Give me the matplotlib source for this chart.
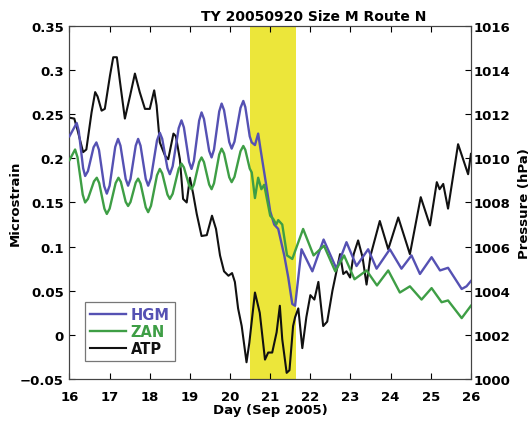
import matplotlib
matplotlib.use("Agg")
import matplotlib.pyplot as plt

# Strain gauge HGM (microstrain)
hgm_day = [16.0, 16.18, 16.23, 16.34, 16.39, 16.46, 16.60, 16.67, 16.735, 16.865, 16.93,
           17.00, 17.14, 17.21, 17.27, 17.40, 17.46, 17.52, 17.65, 17.71, 17.77, 17.90,
           17.96, 18.03, 18.18, 18.25, 18.31, 18.44, 18.50, 18.57, 18.72, 18.79, 18.85,
           18.98, 19.04, 19.10, 19.23, 19.29, 19.35, 19.48, 19.54, 19.60, 19.73, 19.79,
           19.85, 19.98, 20.04, 20.11, 20.26, 20.33, 20.38, 20.49, 20.54, 20.62, 20.70,
           20.76, 20.90, 21.00, 21.10, 21.20, 21.35, 21.45, 21.55, 21.62, 21.78, 22.05,
           22.33, 22.65, 22.90, 23.15, 23.44, 23.65, 23.98, 24.27, 24.52, 24.73, 25.02,
           25.23, 25.43, 25.77, 25.89, 26.0]
hgm_val = [0.225, 0.240, 0.2312, 0.1888, 0.180, 0.1855, 0.2125, 0.218, 0.2095, 0.1685,
           0.160, 0.169, 0.213, 0.222, 0.2143, 0.1767, 0.169, 0.1767, 0.2143, 0.222,
           0.2143, 0.1767, 0.169, 0.1778, 0.2202, 0.229, 0.2221, 0.1889, 0.182, 0.1909,
           0.2341, 0.243, 0.235, 0.196, 0.188, 0.1973, 0.2427, 0.252, 0.2446, 0.2084,
           0.201, 0.2099, 0.2531, 0.262, 0.2546, 0.2184, 0.211, 0.2189, 0.2571, 0.265,
           0.2581, 0.2249, 0.218, 0.215, 0.228, 0.210, 0.170, 0.140, 0.125, 0.120, 0.090,
           0.065, 0.035, 0.033, 0.097, 0.072, 0.108, 0.075, 0.105, 0.078, 0.097, 0.075,
           0.097, 0.075, 0.090, 0.069, 0.088, 0.073, 0.076, 0.052, 0.055, 0.061]

# Strain gauge ZAN (microstrain)
zan_day = [16.0, 16.14, 16.20, 16.33, 16.39, 16.46, 16.61, 16.68, 16.74, 16.87, 16.93,
           17.00, 17.15, 17.22, 17.28, 17.40, 17.46, 17.52, 17.65, 17.71, 17.77, 17.90,
           17.96, 18.03, 18.18, 18.25, 18.31, 18.44, 18.50, 18.57, 18.72, 18.79, 18.85,
           18.98, 19.04, 19.10, 19.23, 19.29, 19.35, 19.48, 19.54, 19.60, 19.73, 19.79,
           19.85, 19.98, 20.04, 20.11, 20.26, 20.33, 20.38, 20.49, 20.54, 20.62, 20.70,
           20.78, 20.85, 21.00, 21.08, 21.15, 21.20, 21.30, 21.42, 21.55, 21.82, 22.08,
           22.34, 22.62, 22.84, 23.10, 23.40, 23.66, 23.94, 24.23, 24.48, 24.77, 25.02,
           25.27, 25.43, 25.77, 26.0]
zan_val = [0.198, 0.210, 0.2012, 0.1588, 0.150, 0.1541, 0.1739, 0.178, 0.172, 0.143,
           0.137, 0.143, 0.172, 0.178, 0.1733, 0.1507, 0.146, 0.1505, 0.1725, 0.177,
           0.1715, 0.1445, 0.139, 0.1462, 0.1808, 0.188, 0.183, 0.159, 0.154, 0.1598,
           0.1882, 0.194, 0.1898, 0.1692, 0.165, 0.1703, 0.1957, 0.201, 0.1957, 0.1703,
           0.165, 0.1717, 0.2043, 0.211, 0.2055, 0.1785, 0.173, 0.179, 0.208, 0.214,
           0.2096, 0.1884, 0.184, 0.155, 0.178, 0.165, 0.170, 0.135, 0.131, 0.125, 0.130,
           0.125, 0.090, 0.086, 0.120, 0.090, 0.101, 0.072, 0.090, 0.063, 0.073, 0.056,
           0.073, 0.048, 0.055, 0.040, 0.053, 0.037, 0.039, 0.019, 0.033]

# Atmospheric pressure ATP (hPa)
atp_day = [16.0, 16.12, 16.2, 16.34, 16.42, 16.55, 16.64, 16.7, 16.8, 16.88, 17.01, 17.09,
           17.18, 17.26, 17.38, 17.51, 17.63, 17.75, 17.88, 18.0, 18.11, 18.17, 18.25, 18.38,
           18.46, 18.59, 18.65, 18.75, 18.83, 18.92, 19.0, 19.08, 19.17, 19.29, 19.42, 19.55,
           19.65, 19.75, 19.85, 19.96, 20.05, 20.12, 20.2, 20.29, 20.41, 20.48, 20.62, 20.74,
           20.87, 20.95, 21.05, 21.16, 21.24, 21.3, 21.41, 21.48, 21.57, 21.62, 21.7, 21.8,
           21.9, 22.0, 22.1, 22.2, 22.32, 22.42, 22.55, 22.74, 22.82, 22.9, 22.99, 23.08,
           23.19, 23.3, 23.4, 23.5, 23.73, 23.94, 24.19, 24.48, 24.75, 24.98, 25.15, 25.22,
           25.31, 25.43, 25.68, 25.93, 26.0]
atp_val = [1011.84, 1011.8, 1011.28, 1010.28, 1010.4, 1012.08, 1013.0, 1012.8, 1012.16,
           1012.24, 1013.76, 1014.58, 1014.58, 1013.44, 1011.8, 1012.84, 1013.84, 1013.0,
           1012.24, 1012.24, 1013.08, 1012.4, 1010.72, 1010.12, 1009.96, 1011.12, 1011.0,
           1009.96, 1008.16, 1008.0, 1009.12, 1008.4, 1007.48, 1006.48, 1006.52, 1007.4,
           1006.8, 1005.6, 1004.88, 1004.68, 1004.8, 1004.4, 1003.2, 1002.4, 1000.76,
           1001.64, 1003.92, 1003.0, 1000.88, 1001.2, 1001.2, 1002.12, 1003.32, 1001.8,
           1000.28, 1000.4, 1002.4, 1002.8, 1003.2, 1001.4, 1002.8, 1003.8, 1003.6, 1004.4,
           1002.4, 1002.6, 1004.0, 1005.66, 1004.76, 1004.88, 1004.6, 1005.66, 1006.28,
           1005.52, 1004.28, 1005.6, 1007.16, 1005.88, 1007.32, 1005.66, 1008.24, 1006.96,
           1008.92, 1008.6, 1008.84, 1007.72, 1010.64, 1009.28, 1010.2]

# Typhoon passage window (days)
storm_window = (20.5, 21.65)

x_ticks = [16, 17, 18, 19, 20, 21, 22, 23, 24, 25, 26]
strain_ticks = [-0.05, 0, 0.05, 0.1, 0.15, 0.2, 0.25, 0.3, 0.35]
strain_labels = ["\u22120.05", "0", "0.05", "0.1", "0.15", "0.2", "0.25", "0.3", "0.35"]
pressure_ticks = [1000, 1002, 1004, 1006, 1008, 1010, 1012, 1014, 1016]

C_HGM = "#5551b3"
C_ZAN = "#3e9e45"
C_ATP = "#111111"
C_BAND = "#ece63a"

plt.rcParams["font.family"] = ["DejaVu Sans"]
plt.rcParams["font.weight"] = "bold"

fig = plt.figure(figsize=(5.32, 4.27), dpi=100)
ax2 = fig.add_axes([0.1306, 0.110, 0.7546, 0.827])
ax = fig.add_axes([0.1306, 0.110, 0.7546, 0.827], sharex=ax2)
ax.patch.set_visible(False)
ax2.yaxis.tick_right()
ax2.yaxis.set_label_position("right")

# shaded window and pressure trace live on the lower (pressure) axes
ax2.axvspan(*storm_window, color=C_BAND, lw=0, zorder=0)
l3, = ax2.plot(atp_day, atp_val, color=C_ATP, lw=1.5, label="ATP", zorder=3)
l1, = ax.plot(hgm_day, hgm_val, color=C_HGM, lw=1.7, label="HGM", zorder=3)
l2, = ax.plot(zan_day, zan_val, color=C_ZAN, lw=1.7, label="ZAN", zorder=3)

ax.set_xlim(16, 26)
ax.set_ylim(-0.05, 0.35)
ax2.set_ylim(1000, 1016)
ax.set_xticks(x_ticks)
ax.set_yticks(strain_ticks)
ax.set_yticklabels(strain_labels)
ax2.set_yticks(pressure_ticks)
ax2.tick_params(axis="x", bottom=False, labelbottom=False)

for a in (ax, ax2):
    a.tick_params(direction="in", length=4, width=0.8, labelsize=9.5)
    for s in a.spines.values():
        s.set_linewidth(0.8)
        s.set_color("#444444")
ax.tick_params(axis="x", top=True, pad=8)
ax.tick_params(axis="y", right=False, pad=4)
ax2.tick_params(axis="y", pad=2)

ax.set_xlabel("Day (Sep 2005)", fontsize=9.5, fontweight="bold", labelpad=0)
ax.set_ylabel("Microstrain", fontsize=9.5, fontweight="bold")
ax.yaxis.set_label_coords(-0.118, 0.5)
ax2.set_ylabel("Pressure (hPa)", fontsize=9.5, fontweight="bold")
ax2.yaxis.set_label_coords(1.117, 0.5)
fig.text(0.590, 0.960, "TY 20050920 Size M Route N", fontsize=10, fontweight="bold",
         ha="center", va="center")

leg = ax.legend(handles=[l1, l2, l3], loc="lower left", bbox_to_anchor=(0.038, 0.05),
                frameon=True, fancybox=False, fontsize=10.5, handlelength=2.5,
                handletextpad=0.3, borderpad=0.35, labelspacing=0.15, borderaxespad=0)
leg.get_frame().set_edgecolor("#555555")
leg.get_frame().set_linewidth(0.9)
for txt, c in zip(leg.get_texts(), [C_HGM, C_ZAN, C_ATP]):
    txt.set_color(c)
    txt.set_fontweight("bold")

fig.savefig("out.png", dpi=100)
